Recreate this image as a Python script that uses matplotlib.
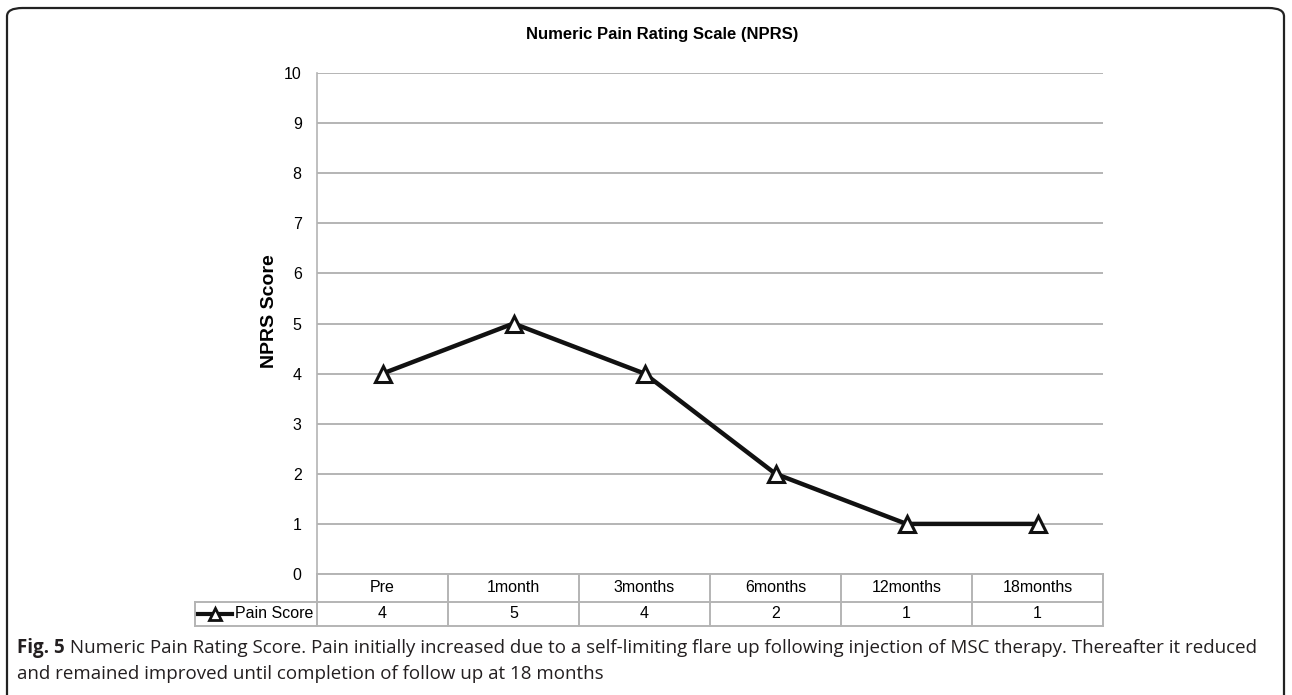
import matplotlib
matplotlib.use("Agg")
import matplotlib.pyplot as plt
from matplotlib.patches import FancyBboxPatch

# data
momentos = ["Pre", "1month", "3months", "6months", "12months", "18months"]
dolor = [4, 5, 4, 2, 1, 1]
serie = "Pain Score"
titulo = "Numeric Pain Rating Scale (NPRS)"
etiqueta_y = "NPRS Score"
leyenda_fig = "Fig. 5"
texto_fig = [
    " Numeric Pain Rating Score. Pain initially increased due to a self-limiting flare up following injection of MSC therapy. Thereafter it reduced",
    "and remained improved until completion of follow up at 18 months",
]

W, H = 1292, 695
GRIS = "#b4b4b4"
FUENTE = "Liberation Sans"

fig = plt.figure(figsize=(W / 100, H / 100), dpi=100)

# marco redondeado
marco = FancyBboxPatch((7 / W, -20 / H), 1277 / W, (H - 8 + 20) / H,
                       boxstyle="round,pad=0,rounding_size=0.012",
                       transform=fig.transFigure, fill=False,
                       edgecolor="#222222", linewidth=1.6)
fig.patches.append(marco)

# ── gráfico principal ────────────────────────────
x0, x1 = 317, 1103
y_top, y_cero = 73, 574
ax = fig.add_axes([x0 / W, (H - y_cero) / H, (x1 - x0) / W, (y_cero - y_top) / H])
x = list(range(len(momentos)))
ax.plot(x, dolor, color="#111111", linewidth=3.2, marker="^", markersize=11,
        markerfacecolor="white", markeredgecolor="#111111", markeredgewidth=2.2,
        zorder=3, clip_on=False)
ax.set_xlim(-0.5, len(momentos) - 0.5)
ax.set_ylim(0, 10)
ax.set_yticks(range(0, 11))
ax.set_xticks([])
ax.grid(axis="y", color=GRIS, linewidth=1.4)
ax.set_axisbelow(True)
for lado in ["top", "right", "bottom"]:
    ax.spines[lado].set_visible(False)
ax.spines["left"].set_color(GRIS)
ax.spines["left"].set_linewidth(1.2)
ax.tick_params(axis="y", length=0, pad=11, labelsize=11.5)
for t in ax.get_yticklabels():
    t.set_fontfamily(FUENTE)

fig.text(270 / W, 1 - 311 / H, etiqueta_y, ha="center", va="center", rotation=90,
         fontsize=14, fontweight="bold", family=FUENTE)
fig.text(662 / W, 1 - 35 / H, titulo, ha="center", va="center",
         fontsize=12, fontweight="bold", family=FUENTE)

# ── tabla de datos ───────────────────────────────
y_fila, y_fin = 602, 626
axt = fig.add_axes([x0 / W, (H - y_fin) / H, (x1 - x0) / W, (y_fin - y_cero) / H])
axt.set_xlim(-0.5, len(momentos) - 0.5)
axt.set_ylim(0, y_fin - y_cero)
axt.axis("off")
alto_cab = y_fila - y_cero
alto_dat = y_fin - y_fila
px = 1 / ((x1 - x0) / len(momentos))  # unidades de dato por pixel
x_izq = -0.5 - (x0 - 195) * px

kw = dict(color=GRIS, linewidth=1.4, clip_on=False)
axt.plot([-0.5, len(momentos) - 0.5], [alto_dat + alto_cab] * 2, **kw)
axt.plot([x_izq, len(momentos) - 0.5], [alto_dat, alto_dat], **kw)
axt.plot([x_izq, len(momentos) - 0.5], [0, 0], **kw)
axt.plot([x_izq, x_izq], [0, alto_dat], **kw)
for i in range(len(momentos) + 1):
    axt.plot([i - 0.5, i - 0.5], [0, alto_dat + alto_cab], **kw)

for i, (m, v) in enumerate(zip(momentos, dolor)):
    axt.text(i, alto_dat + alto_cab / 2, m, ha="center", va="center",
             fontsize=11.5, family=FUENTE)
    axt.text(i, alto_dat / 2, str(v), ha="center", va="center",
             fontsize=11.5, family=FUENTE)

axt.text(-0.5 - 4 * px, alto_dat / 2, serie, ha="right", va="center",
         fontsize=11.5, family=FUENTE)
axt.plot([x_izq + 3 * px, x_izq + 37 * px], [alto_dat / 2] * 2, color="#111111",
         linewidth=3, clip_on=False)
axt.plot([x_izq + 20 * px], [alto_dat / 2], linestyle="none", marker="^",
         markersize=8, markerfacecolor="white", markeredgecolor="#111111",
         markeredgewidth=2, clip_on=False)

# ── pie de figura ────────────────────────────────
CAP = "Open Sans"
r = fig.canvas.get_renderer()
t1 = fig.text(17 / W, 1 - 648 / H, leyenda_fig, ha="left", va="center",
              fontsize=13.5, fontweight="bold", family=CAP, color="#231f20")
bb = t1.get_window_extent(renderer=r)
fig.text(bb.x1 / W, 1 - 648 / H, texto_fig[0], ha="left", va="center",
         fontsize=13.5, family=CAP, color="#231f20")
fig.text(17 / W, 1 - 674 / H, texto_fig[1], ha="left", va="center",
         fontsize=13.5, family=CAP, color="#231f20")

fig.savefig("out.png", dpi=100)
